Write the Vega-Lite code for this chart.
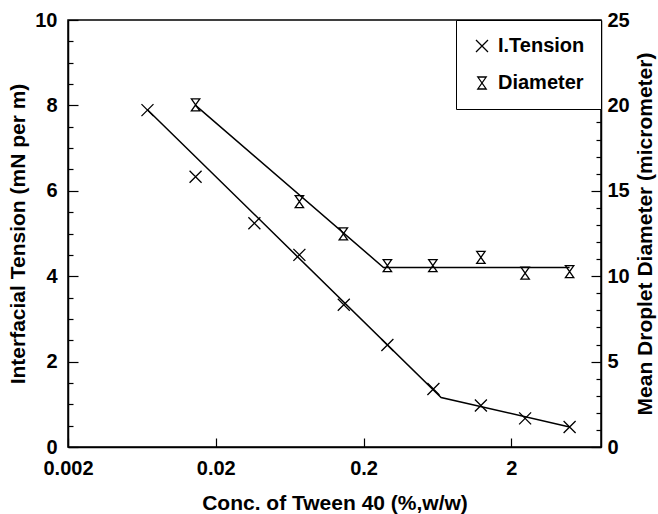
{
  "$schema": "https://vega.github.io/schema/vega-lite/v6.json",
  "autosize": {"type": "none"},
  "width": 533,
  "height": 427,
  "padding": {"left": 68, "top": 20, "right": 57, "bottom": 67},
  "background": "white",
  "config": {
    "font": "Liberation Sans",
    "view": {"stroke": "black", "strokeWidth": 1.5},
    "axis": {
      "domainColor": "black",
      "domainWidth": 1.5,
      "tickColor": "black",
      "tickWidth": 1.2,
      "grid": false,
      "labelFlush": false,
      "labelOverlap": false,
      "labelFont": "Liberation Sans",
      "labelFontSize": 20,
      "labelFontWeight": "bold",
      "labelColor": "black",
      "titleFont": "Liberation Sans",
      "titleFontSize": 21,
      "titleFontWeight": "bold",
      "titleColor": "black"
    }
  },
  "datasets": {
    "tension": [
      {"c": 0.0069, "t": 7.89, "series": "I.Tension"},
      {"c": 0.0146, "t": 6.33, "series": "I.Tension"},
      {"c": 0.0365, "t": 5.24, "series": "I.Tension"},
      {"c": 0.0736, "t": 4.5, "series": "I.Tension"},
      {"c": 0.147, "t": 3.33, "series": "I.Tension"},
      {"c": 0.29, "t": 2.39, "series": "I.Tension"},
      {"c": 0.594, "t": 1.36, "series": "I.Tension"},
      {"c": 1.245, "t": 0.97, "series": "I.Tension"},
      {"c": 2.48, "t": 0.67, "series": "I.Tension"},
      {"c": 4.96, "t": 0.47, "series": "I.Tension"}
    ],
    "tensionFit": [
      {"c": 0.0069, "t": 7.9},
      {"c": 0.67, "t": 1.16},
      {"c": 4.96, "t": 0.47}
    ],
    "diameter": [
      {"c": 0.0146, "d": 20.03, "series": "Diameter"},
      {"c": 0.0736, "d": 14.37, "series": "Diameter"},
      {"c": 0.146, "d": 12.48, "series": "Diameter"},
      {"c": 0.29, "d": 10.62, "series": "Diameter"},
      {"c": 0.589, "d": 10.62, "series": "Diameter"},
      {"c": 1.245, "d": 11.1, "series": "Diameter"},
      {"c": 2.48, "d": 10.18, "series": "Diameter"},
      {"c": 4.96, "d": 10.27, "series": "Diameter"}
    ],
    "diameterFit": [
      {"c": 0.0146, "d": 20.0},
      {"c": 0.273, "d": 10.51},
      {"c": 4.96, "d": 10.51}
    ]
  },
  "layer": [
    {
      "layer": [
        {
          "data": {"name": "tensionFit"},
          "mark": {"type": "line", "color": "black", "strokeWidth": 1.5},
          "encoding": {
            "x": {"field": "c", "type": "quantitative",
              "scale": {"type": "log", "domain": [0.002, 8.09]},
              "axis": {"values": [0.002, 0.02, 0.2, 2], "format": "~g", "tickSize": -9, "labelPadding": 20, "title": "Conc. of Tween 40 (%,w/w)", "titlePadding": 14}},
            "y": {"field": "t", "type": "quantitative",
              "scale": {"domain": [0, 10]},
              "axis": {"orient": "left", "values": [0,0.5,1,1.5,2,2.5,3,3.5,4,4.5,5,5.5,6,6.5,7,7.5,8,8.5,9,9.5,10],
                "labelExpr": "datum.value % 2 === 0 ? format(datum.value, 'd') : ''",
                "tickSize": {"condition": {"test": "datum.value % 2 === 0", "value": -10}, "value": -5},
                "labelPadding": 21,
                "title": "Interfacial Tension (mN per m)", "titlePadding": 6}}
          }
        },
        {
          "data": {"name": "tension"},
          "mark": {"type": "point", "filled": false, "color": "black", "size": 144, "strokeWidth": 1.3, "opacity": 1},
          "encoding": {
            "x": {"field": "c", "type": "quantitative",
              "scale": {"type": "log", "domain": [0.002, 8.09]},
              "axis": {"values": [0.002, 0.02, 0.2, 2], "format": "~g", "tickSize": -9, "labelPadding": 20, "title": "Conc. of Tween 40 (%,w/w)", "titlePadding": 14}},
            "y": {"field": "t", "type": "quantitative",
              "scale": {"domain": [0, 10]},
              "axis": {"orient": "left", "values": [0,0.5,1,1.5,2,2.5,3,3.5,4,4.5,5,5.5,6,6.5,7,7.5,8,8.5,9,9.5,10],
                "labelExpr": "datum.value % 2 === 0 ? format(datum.value, 'd') : ''",
                "tickSize": {"condition": {"test": "datum.value % 2 === 0", "value": -10}, "value": -5},
                "labelPadding": 21,
                "title": "Interfacial Tension (mN per m)", "titlePadding": 6}},
            "shape": {"field": "series", "type": "nominal",
              "scale": {"domain": ["I.Tension", "Diameter"], "range": ["M-1,-1L1,1M-1,1L1,-1", "M-0.7,-1L0.7,-1L-0.7,1L0.7,1Z"]},
              "legend": {"orient": "top-right", "offset": 0, "title": null, "strokeColor": "black", "fillColor": "white",
                "padding": 16, "rowPadding": 17, "labelOffset": 6, "labelFontSize": 20, "labelFont": "Liberation Sans",
                "labelFontWeight": "bold", "labelColor": "black", "symbolSize": 144, "symbolStrokeColor": "black",
                "symbolFillColor": "transparent", "symbolStrokeWidth": 1.3, "symbolOpacity": 1}}
          }
        }
      ]
    },
    {
      "layer": [
        {
          "data": {"name": "diameterFit"},
          "mark": {"type": "line", "color": "black", "strokeWidth": 1.5},
          "encoding": {
            "x": {"field": "c", "type": "quantitative",
              "scale": {"type": "log", "domain": [0.002, 8.09]},
              "axis": {"values": [0.002, 0.02, 0.2, 2], "format": "~g", "tickSize": -9, "labelPadding": 20, "title": "Conc. of Tween 40 (%,w/w)", "titlePadding": 14}},
            "y": {"field": "d", "type": "quantitative",
              "scale": {"domain": [0, 25]},
              "axis": {"orient": "right", "values": [0,1,2,3,4,5,6,7,8,9,10,11,12,13,14,15,16,17,18,19,20,21,22,23,24,25],
                "labelExpr": "datum.value % 5 === 0 ? format(datum.value, 'd') : ''",
                "tickSize": {"condition": {"test": "datum.value % 5 === 0", "value": -10}, "value": -5},
                "labelPadding": 16,
                "title": "Mean Droplet Diameter (micrometer)", "titleAngle": -90, "titlePadding": 26}}
          }
        },
        {
          "data": {"name": "diameter"},
          "mark": {"type": "point", "filled": false, "color": "black", "size": 144, "strokeWidth": 1.3, "opacity": 1},
          "encoding": {
            "x": {"field": "c", "type": "quantitative",
              "scale": {"type": "log", "domain": [0.002, 8.09]},
              "axis": {"values": [0.002, 0.02, 0.2, 2], "format": "~g", "tickSize": -9, "labelPadding": 20, "title": "Conc. of Tween 40 (%,w/w)", "titlePadding": 14}},
            "y": {"field": "d", "type": "quantitative",
              "scale": {"domain": [0, 25]},
              "axis": {"orient": "right", "values": [0,1,2,3,4,5,6,7,8,9,10,11,12,13,14,15,16,17,18,19,20,21,22,23,24,25],
                "labelExpr": "datum.value % 5 === 0 ? format(datum.value, 'd') : ''",
                "tickSize": {"condition": {"test": "datum.value % 5 === 0", "value": -10}, "value": -5},
                "labelPadding": 16,
                "title": "Mean Droplet Diameter (micrometer)", "titleAngle": -90, "titlePadding": 26}},
            "shape": {"field": "series", "type": "nominal",
              "scale": {"domain": ["I.Tension", "Diameter"], "range": ["M-1,-1L1,1M-1,1L1,-1", "M-0.7,-1L0.7,-1L-0.7,1L0.7,1Z"]},
              "legend": {"orient": "top-right", "offset": 0, "title": null, "strokeColor": "black", "fillColor": "white",
                "padding": 16, "rowPadding": 17, "labelOffset": 6, "labelFontSize": 20, "labelFont": "Liberation Sans",
                "labelFontWeight": "bold", "labelColor": "black", "symbolSize": 144, "symbolStrokeColor": "black",
                "symbolFillColor": "transparent", "symbolStrokeWidth": 1.3, "symbolOpacity": 1}}
          }
        }
      ]
    }
  ],
  "resolve": {"scale": {"y": "independent"}}
}
